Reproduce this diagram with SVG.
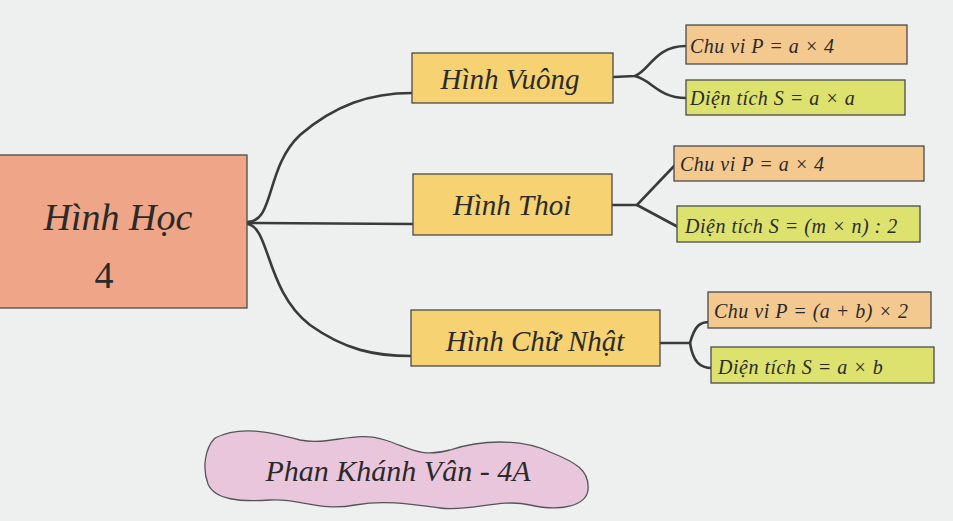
<svg xmlns="http://www.w3.org/2000/svg" width="953" height="521" viewBox="0 0 953 521">
<style>
.box{stroke:#4a4a4a;stroke-width:1.3}
.root{fill:#efa688}
.main{fill:#f6d273}
.cv{fill:#f3c990}
.dt{fill:#dde26e}
.t{font-family:"Liberation Serif",serif;font-style:italic;fill:#2a2a2a}
.big{font-size:38px}
.mid{font-size:29px}
.sm{font-size:20px;letter-spacing:0.5px}
.con{fill:none;stroke:#3a3a3a;stroke-width:2.6;stroke-linecap:round}
</style>
<rect width="953" height="521" fill="#eef0f0"/>
<g id="connectors">
<path class="con" d="M247 222 C275 222 265 168 300 135 C335 105 370 93 412 93"/>
<path class="con" d="M247 223 L413 224"/>
<path class="con" d="M247 224 C270 226 265 290 310 325 C345 350 375 356 411 356"/>
<path class="con" d="M613 77 L635 76 C650 70 655 46 686 46"/>
<path class="con" d="M635 76 C652 80 658 98 686 98"/>
<path class="con" d="M612 205 L637 205 L676 164"/>
<path class="con" d="M637 205 L678 227"/>
<path class="con" d="M660 343 L690 343 C695 325 700 322 710 322"/>
<path class="con" d="M690 343 C693 362 700 368 712 368"/>
</g>
<g id="root">
<rect class="box root" x="-2" y="155" width="249" height="153"/>
<text class="t big" x="118" y="230" text-anchor="middle">Hình Học</text>
<text class="t big" x="104" y="288" text-anchor="middle" style="font-style:normal">4</text>
</g>
<g id="hinh-vuong">
<rect class="box main" x="412" y="53" width="201" height="50"/>
<text class="t mid" x="510" y="89" text-anchor="middle">Hình Vuông</text>
</g>
<g id="cv-vuong">
<rect class="box cv" x="686" y="25" width="221" height="39"/>
<text class="t sm" x="690" y="53">Chu vi  P  =  a  × 4</text>
</g>
<g id="dt-vuong">
<rect class="box dt" x="686" y="80" width="219" height="35"/>
<text class="t sm" x="690" y="105">Diện tích S = a × a</text>
</g>
<g id="hinh-thoi">
<rect class="box main" x="413" y="174" width="199" height="61"/>
<text class="t mid" x="512" y="215" text-anchor="middle">Hình Thoi</text>
</g>
<g id="cv-thoi">
<rect class="box cv" x="674" y="146" width="250" height="35"/>
<text class="t sm" x="680" y="171">Chu vi  P = a × 4</text>
</g>
<g id="dt-thoi">
<rect class="box dt" x="677" y="206" width="243" height="36"/>
<text class="t sm" x="685" y="233">Diện tích  S = (m × n) : 2</text>
</g>
<g id="hinh-chu-nhat">
<rect class="box main" x="411" y="310" width="249" height="56"/>
<text class="t mid" x="535" y="351" text-anchor="middle">Hình Chữ Nhật</text>
</g>
<g id="cv-cn">
<rect class="box cv" x="708" y="292" width="223" height="36"/>
<text class="t sm" x="714" y="318">Chu vi  P = (a + b) × 2</text>
</g>
<g id="dt-cn">
<rect class="box dt" x="711" y="347" width="223" height="36"/>
<text class="t sm" x="718" y="374">Diện tích  S = a × b</text>
</g>
<g id="signature">
<path d="M215 438 C240 425 270 432 300 440 C330 446 355 430 385 440 C410 448 420 458 450 450 C480 440 520 438 550 452 C575 462 590 470 588 490 C586 506 560 512 530 505 C500 498 470 512 440 508 C410 504 385 500 355 505 C320 512 300 498 270 500 C240 502 215 500 208 484 C202 468 205 448 215 438 Z" fill="#e9c6dc" stroke="#555" stroke-width="1.3"/>
<text class="t" x="398" y="481" text-anchor="middle" style="font-size:30px">Phan Khánh Vân - 4A</text>
</g>
</svg>
